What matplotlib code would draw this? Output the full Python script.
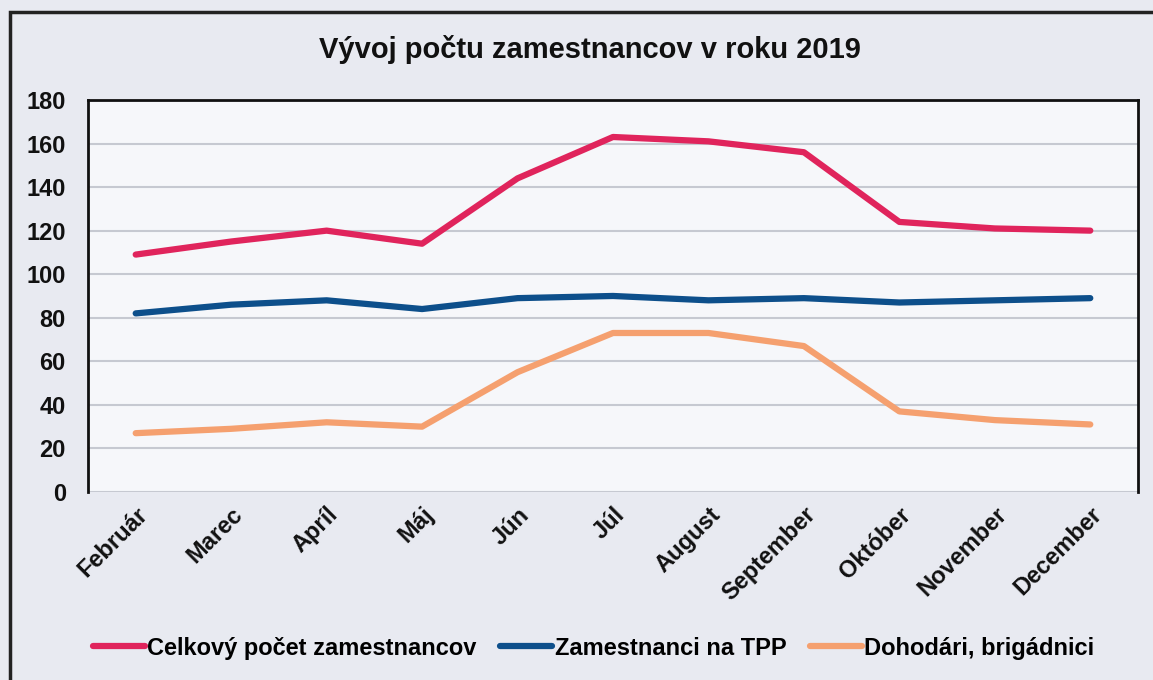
import matplotlib.pyplot as plt
from matplotlib.patches import Rectangle

# Data
months = ['Február', 'Marec', 'Apríl', 'Máj', 'Jún', 'Júl', 'August',
          'September', 'Október', 'November', 'December']
celkovy = [109, 115, 120, 114, 144, 163, 161, 156, 124, 121, 120]
tpp = [82, 86, 88, 84, 89, 90, 88, 89, 87, 88, 89]
dohodari = [27, 29, 32, 30, 55, 73, 73, 67, 37, 33, 31]

# Condensed bold look, falls back if narrow font is missing
plt.rcParams['font.family'] = ['Liberation Sans Narrow', 'Liberation Sans', 'DejaVu Sans']
plt.rcParams['font.weight'] = 'bold'

fig = plt.figure(figsize=(11.53, 6.8), dpi=100)
fig.patch.set_facecolor('#e8eaf1')
ax = fig.add_axes([0.0763, 0.2765, 0.9107, 0.5765])
ax.set_facecolor('#f6f7fa')

x = range(len(months))
ax.plot(x, celkovy, color='#e0245c', lw=4.5, solid_capstyle='round', label='Celkový počet zamestnancov')
ax.plot(x, tpp, color='#0d4f8b', lw=4.5, solid_capstyle='round', label='Zamestnanci na TPP')
ax.plot(x, dohodari, color='#f5a06f', lw=4.5, solid_capstyle='round', label='Dohodári, brigádnici')

ax.set_ylim(0, 180)
ax.set_yticks(range(0, 181, 20))
ax.set_xlim(-0.5, len(months) - 0.5)
ax.set_xticks(list(x))
ax.set_xticklabels(months, rotation=45, ha='right', rotation_mode='anchor')
ax.tick_params(axis='both', length=0, labelsize=17, colors='#111111')
ax.tick_params(axis='x', pad=8)
ax.tick_params(axis='y', pad=16)
ax.grid(axis='y', color='#c6c9d1', lw=1.5)
ax.set_axisbelow(True)
for side in ['left', 'top', 'right']:
    ax.spines[side].set_color('#111111')
    ax.spines[side].set_linewidth(2)
ax.spines['bottom'].set_visible(False)

fig.text(0.512, 0.927, 'Vývoj počtu zamestnancov v roku 2019', ha='center', va='center',
         fontsize=21, fontweight='bold', color='#111111')

fig.legend(loc='center', bbox_to_anchor=(0.515, 0.047), ncol=3, frameon=False,
           fontsize=17, handlelength=2.2, handletextpad=0.1, columnspacing=1.0)

# outer chart border
fig.patches.append(Rectangle((0.009, -0.01), 1.1, 0.993, transform=fig.transFigure,
                             fill=False, edgecolor='#222222', lw=2.5))

fig.savefig('out.png', dpi=100, facecolor=fig.get_facecolor())
